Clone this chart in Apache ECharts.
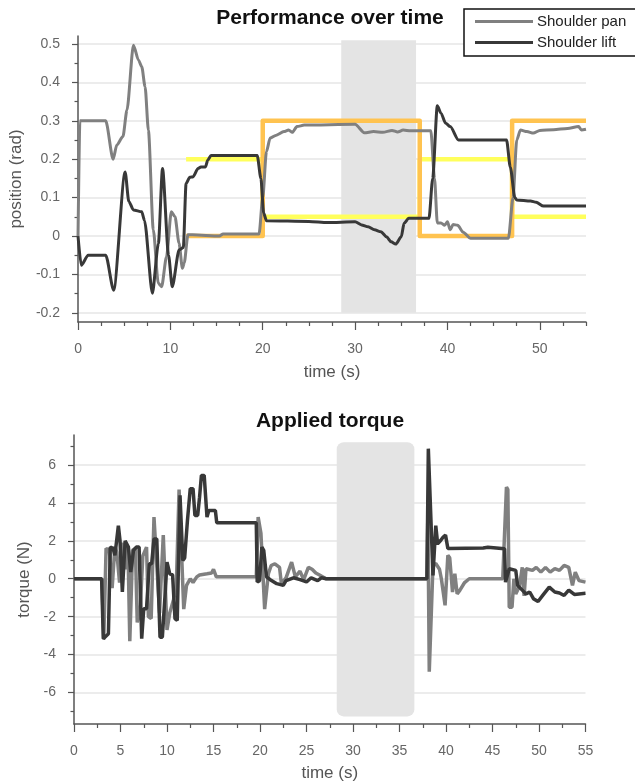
<!DOCTYPE html>
<html>
<head>
<meta charset="utf-8">
<script src="https://cdn.jsdelivr.net/npm/echarts@6/dist/echarts.min.js"></script>
<style>
html,body{margin:0;padding:0;background:#fff;}
#chart{width:635px;height:784px;}
</style>
</head>
<body>
<div id="chart"></div>
<script>
// ---------- DATA ----------
const seriesNames = ['Shoulder pan', 'Shoulder lift'];

// Top chart: position (rad) vs time (s)
const panPos = [[0,0],[0.2,0.3],[3.0,0.3],[3.8,0.2],[4.2,0.237],[4.86,0.259],[5.3,0.328],[6.0,0.497],[6.55,0.458],[6.9,0.441],[7.26,0.389],[7.62,0.276],[8.15,0.016],[8.69,-0.123],[9.05,-0.132],[9.58,-0.054],[10.1,0.063],[10.5,0.05],[10.94,-0.019],[11.3,-0.084],[11.5,-0.07],[11.9,0.003],[12.4,0.003],[15.3,0.0],[15.7,0.005],[19.6,0.005],[20.0,0.1],[20.4,0.22],[20.8,0.255],[21.4,0.262],[22.3,0.272],[22.8,0.276],[23.2,0.27],[23.7,0.285],[24.5,0.289],[30.0,0.291],[31.0,0.269],[32.0,0.272],[33.0,0.27],[34.0,0.275],[34.6,0.271],[35.2,0.276],[36.0,0.274],[38.2,0.274],[38.6,0.15],[38.9,0.034],[39.3,0.034],[39.7,0.028],[40.0,0.037],[40.3,0.016],[40.6,0.03],[41.1,0.028],[41.7,0.01],[42.5,-0.006],[46.6,-0.006],[47.1,0.1],[47.5,0.25],[47.9,0.276],[48.6,0.272],[49.3,0.268],[50.0,0.275],[51.5,0.277],[53.0,0.28],[54.2,0.285],[54.5,0.276],[55,0.278]];
const liftPos = [[0,0],[0.35,-0.076],[1.1,-0.05],[3.0,-0.05],[3.86,-0.141],[5.1,0.167],[5.5,0.09],[6.0,0.068],[6.9,0.063],[7.2,0.04],[8.05,-0.149],[8.7,-0.02],[9.15,0.176],[9.8,-0.05],[10.2,-0.132],[10.95,-0.036],[11.4,-0.03],[11.7,0.137],[12.1,0.153],[12.45,0.154],[13.0,0.176],[13.3,0.18],[13.8,0.18],[14.05,0.198],[14.4,0.21],[19.4,0.21],[19.8,0.15],[20.1,0.06],[20.4,0.04],[25.0,0.038],[27.0,0.035],[30.0,0.037],[30.7,0.029],[31.4,0.024],[32.1,0.016],[32.8,0.011],[33.4,-0.002],[33.9,-0.015],[34.4,-0.021],[35.0,-0.002],[35.3,0.033],[35.8,0.046],[38.0,0.046],[38.4,0.15],[38.9,0.339],[39.3,0.32],[39.8,0.294],[40.3,0.285],[41.2,0.25],[46.4,0.25],[46.8,0.18],[47.3,0.1],[47.5,0.094],[49.0,0.091],[49.6,0.088],[50.4,0.078],[55,0.078]];
const targetPan = [[11.7,0],[20,0],[20,0.3],[37,0.3],[37,0],[47,0],[47,0.3],[55,0.3]];
const targetLift = [[11.7,0.2],[20,0.2],[20,0.05],[37,0.05],[37,0.2],[47,0.2],[47,0.05],[55,0.05]];
const bandTop = [[28.5, 36.6, -0.2, 0.51]];      // [t0, t1, v0, v1]

// Bottom chart: torque (N) vs time (s)
const panTorque = [[0,0],[3.0,0],[3.2,-3.2],[3.45,1.6],[3.8,1.5],[4.1,-0.5],[4.4,1.7],[4.6,1.4],[4.9,-0.2],[5.2,1.9],[5.5,0.5],[5.8,1.67],[6.0,-3.3],[6.3,1.5],[6.6,1.6],[6.8,-2.3],[7.1,-1.8],[7.4,1.2],[7.8,1.67],[8.0,-2.0],[8.3,-2.1],[8.6,3.25],[8.8,3.25],[9.2,-1.8],[9.6,2.3],[10.0,-2.7],[10.3,-1.8],[10.7,-1.1],[11.0,-0.4],[11.3,4.7],[11.5,4.6],[11.8,-1.6],[12.1,-0.35],[12.5,0],[12.8,-0.2],[13.2,0.1],[13.5,0.2],[14.3,0.26],[14.8,0.3],[15.0,0.5],[15.3,0.1],[19.6,0.1],[19.8,3.25],[20.1,2.4],[20.5,-1.6],[20.9,0.26],[21.2,0.7],[21.6,0.79],[22.1,0.6],[22.3,-0.26],[22.8,0.05],[23.4,0.88],[23.8,0.1],[24.3,0.4],[24.7,-0.05],[25.2,0.6],[25.6,0.5],[26.0,0.3],[26.4,0.2],[27.1,0],[37.95,0],[38.05,3.5],[38.2,-4.9],[38.35,-4.8],[38.6,0.7],[38.9,0.8],[39.3,0.5],[39.5,0],[39.9,-1.4],[40.2,1.23],[40.4,1.1],[40.7,-0.7],[40.95,0.26],[41.2,-0.8],[41.5,-0.6],[42.0,-0.2],[42.5,0],[46.1,0],[46.5,4.84],[46.65,4.7],[46.8,-1.5],[47.1,-1.5],[47.3,0],[47.5,-0.8],[47.9,-0.4],[48.2,0.6],[48.4,-0.9],[48.6,0.53],[49.3,0.44],[49.7,0.6],[50.2,0.35],[50.7,0.6],[51.2,0.35],[51.7,0.53],[52.2,0.44],[52.7,0.7],[53.2,0.6],[53.6,-0.35],[53.9,0.35],[54.3,-0.1],[55,-0.18]];
const liftTorque = [[0,0],[2.97,0],[3.15,-3.16],[3.7,-2.9],[3.9,1.67],[4.2,1.6],[4.4,1.23],[4.77,2.8],[4.95,2.0],[5.2,-0.7],[5.5,2.0],[5.85,1.67],[6.1,0.35],[6.4,1.5],[6.7,1.67],[7.0,1.67],[7.28,-3.16],[7.5,-1.58],[7.8,-1.58],[8.1,0.79],[8.35,0.79],[8.6,2.1],[8.9,2.1],[9.25,-3.08],[9.5,-3.08],[9.8,-0.79],[10.0,0.88],[10.3,0.26],[10.6,0.2],[10.86,-2.1],[11.1,-2.2],[11.4,4.4],[11.7,0.97],[11.9,1.1],[12.2,3.08],[12.5,4.75],[12.8,4.75],[13.0,3.34],[13.3,3.34],[13.5,4.3],[13.7,5.45],[14.0,5.45],[14.3,3.25],[14.5,3.6],[15.2,3.6],[15.35,2.95],[19.6,2.95],[19.7,-0.17],[19.95,-0.1],[20.2,1.67],[20.4,1.5],[20.7,0.1],[21.1,-0.05],[21.8,-0.26],[22.5,-0.35],[22.8,-0.1],[23.6,0.05],[24.3,-0.05],[25.0,-0.17],[25.5,0.05],[26.2,-0.1],[26.6,0.05],[27.1,0],[37.95,0],[38.1,6.86],[38.3,6.86],[38.6,0.17],[38.9,2.8],[39.1,1.85],[39.4,2.0],[39.7,2.2],[39.95,2.3],[40.2,1.6],[44.0,1.62],[44.5,1.66],[46.3,1.58],[46.4,-0.18],[46.6,-0.18],[46.8,0.53],[47.5,0.44],[47.7,-0.35],[48.2,-0.6],[48.6,-0.8],[49.0,-0.7],[49.4,-1.05],[49.9,-1.2],[50.4,-0.88],[51.1,-0.44],[51.7,-0.7],[52.2,-0.75],[52.7,-0.88],[53.2,-0.6],[53.8,-0.83],[54.3,-0.8],[55,-0.77]];
const bandBottom = [[28.25, 36.6, -7.26, 7.2]];

// Tick values
const topXLabels = [0,10,20,30,40,50];
const topXMinor = [2.5,5,7.5,12.5,15,17.5,22.5,25,27.5,32.5,35,37.5,42.5,45,47.5,52.5,55];
const topYLabels = [-0.2,-0.1,0,0.1,0.2,0.3,0.4,0.5];
const topYMinor = [-0.15,-0.05,0.05,0.15,0.25,0.35,0.45];
const botXLabels = [0,5,10,15,20,25,30,35,40,45,50,55];
const botXMinor = [2.5,7.5,12.5,17.5,22.5,27.5,32.5,37.5,42.5,47.5,52.5];
const botYLabels = [-6,-4,-2,0,2,4,6];
const botYMinor = [-7,-5,-3,-1,1,3,5,7];

// ---------- STYLE ----------
const FONT = 'Liberation Sans, Arial, sans-serif';
const PAN_C = '#808080', LIFT_C = '#383838', ORANGE = '#ffc350', YELLOW = '#ffff5c';
const AX_C = '#555555', LBL_C = '#666666';

function majorAxis(extra) {
  return Object.assign({
    type: 'value',
    axisLine: {show: true, onZero: false, lineStyle: {color: AX_C, width: 1.5}},
    axisTick: {show: true, inside: false, lineStyle: {color: AX_C, width: 1.2}},
    axisLabel: {color: LBL_C, fontSize: 14, fontFamily: FONT},
    splitLine: {show: false},
    nameTextStyle: {color: '#555', fontSize: 17, fontFamily: FONT}
  }, extra);
}
function minorAxis(extra, len, vals) {
  return Object.assign({
    type: 'value',
    axisLine: {show: false, onZero: false},
    axisTick: {show: true, inside: false, length: len, customValues: vals, lineStyle: {color: AX_C, width: 1.2}},
    axisLabel: {show: false},
    splitLine: {show: false}
  }, extra);
}

const TOP_Y = [-0.224, 0.521];
const BOT_Y = [-7.66, 7.58];

function bandItem(params, api) {
  const p0 = api.coord([api.value(0), api.value(3)]);
  const p1 = api.coord([api.value(1), api.value(2)]);
  return {type: 'rect', shape: {x: p0[0], y: p0[1], width: p1[0] - p0[0], height: p1[1] - p0[1], r: params.seriesIndex === 0 ? 0 : 7},
    style: {fill: '#e4e4e4'}};
}

const chart = echarts.init(document.getElementById('chart'), null, {renderer: 'canvas'});
const option = {
  animation: false,
  backgroundColor: '#fff',
  title: [
    {text: 'Performance over time', left: 330, top: 8, textAlign: 'center', padding: 0,
     textStyle: {fontSize: 21, fontWeight: 'bold', color: '#111', fontFamily: FONT}},
    {text: 'Applied torque', left: 330, top: 411, textAlign: 'center', padding: 0,
     textStyle: {fontSize: 21, fontWeight: 'bold', color: '#111', fontFamily: FONT}}
  ],
  legend: {
    data: seriesNames, orient: 'vertical', left: 464, top: 9,
    padding: [5, 10, 6, 11], itemGap: 6, itemWidth: 58, itemHeight: 3, icon: 'rect',
    borderColor: '#111', borderWidth: 1.5, backgroundColor: '#fff',
    textStyle: {fontSize: 15, color: '#222', fontFamily: FONT, padding: [0, 0, 0, -1]}
  },
  grid: [
    {left: 74, right: 49, top: 36, height: 286},
    {left: 74, right: 49.5, top: 435, height: 289}
  ],
  xAxis: [
    majorAxis({gridIndex: 0, min: 0, max: 55, name: 'time (s)', nameLocation: 'middle', nameGap: 42,
      axisTick: {show: true, length: 8, customValues: topXLabels, lineStyle: {color: AX_C, width: 1.2}},
      axisLabel: {color: LBL_C, fontSize: 14, fontFamily: FONT, margin: 20, customValues: topXLabels}}),
    majorAxis({gridIndex: 1, min: 0, max: 55, name: 'time (s)', nameLocation: 'middle', nameGap: 41,
      axisTick: {show: true, length: 8, customValues: botXLabels, lineStyle: {color: AX_C, width: 1.2}},
      axisLabel: {color: LBL_C, fontSize: 14, fontFamily: FONT, margin: 20, customValues: botXLabels}}),
    minorAxis({gridIndex: 0, min: 0, max: 55, position: 'bottom'}, 4, topXMinor),
    minorAxis({gridIndex: 1, min: 0, max: 55, position: 'bottom'}, 4, botXMinor)
  ],
  yAxis: [
    majorAxis({gridIndex: 0, min: TOP_Y[0], max: TOP_Y[1], name: 'position (rad)', nameLocation: 'middle', nameGap: 46,
      axisTick: {show: true, length: 6, customValues: topYLabels, lineStyle: {color: AX_C, width: 1.2}},
      axisLabel: {color: LBL_C, fontSize: 14, fontFamily: FONT, margin: 18, customValues: topYLabels},
      splitLine: {show: true, lineStyle: {color: '#e6e6e6', width: 1.5}}}),
    majorAxis({gridIndex: 1, min: BOT_Y[0], max: BOT_Y[1], name: 'torque (N)', nameLocation: 'middle', nameGap: 37,
      axisTick: {show: true, length: 6, customValues: botYLabels, lineStyle: {color: AX_C, width: 1.2}},
      axisLabel: {color: LBL_C, fontSize: 14, fontFamily: FONT, margin: 18, customValues: botYLabels},
      splitLine: {show: true, lineStyle: {color: '#e6e6e6', width: 1.5}}}),
    minorAxis({gridIndex: 0, min: TOP_Y[0], max: TOP_Y[1], position: 'left'}, 3.5, topYMinor),
    minorAxis({gridIndex: 1, min: BOT_Y[0], max: BOT_Y[1], position: 'left'}, 3.5, botYMinor)
  ],
  series: [
    {type: 'custom', xAxisIndex: 0, yAxisIndex: 0, data: bandTop, renderItem: bandItem, encode: {x: [0, 1], y: [2, 3]}, silent: true, z: 1},
    {type: 'custom', xAxisIndex: 1, yAxisIndex: 1, data: bandBottom, renderItem: bandItem, encode: {x: [0, 1], y: [2, 3]}, silent: true, z: 1},
    {type: 'line', name: 'targetLift', xAxisIndex: 0, yAxisIndex: 0, data: targetLift, showSymbol: false, z: 2,
      lineStyle: {color: YELLOW, width: 4.5}},
    {type: 'line', name: 'targetPan', xAxisIndex: 0, yAxisIndex: 0, data: targetPan, showSymbol: false, z: 3,
      lineStyle: {color: ORANGE, width: 4.5, join: 'round'}},
    {type: 'line', name: seriesNames[0], xAxisIndex: 0, yAxisIndex: 0, data: panPos, showSymbol: false, z: 4,
      smooth: 0.25, smoothMonotone: 'x', color: PAN_C, lineStyle: {color: PAN_C, width: 3}},
    {type: 'line', name: seriesNames[1], xAxisIndex: 0, yAxisIndex: 0, data: liftPos, showSymbol: false, z: 5,
      smooth: 0.25, smoothMonotone: 'x', color: LIFT_C, lineStyle: {color: LIFT_C, width: 3}},
    {type: 'line', name: seriesNames[0], xAxisIndex: 1, yAxisIndex: 1, data: panTorque, showSymbol: false, z: 4,
      color: PAN_C, lineStyle: {color: PAN_C, width: 3.5}},
    {type: 'line', name: seriesNames[1], xAxisIndex: 1, yAxisIndex: 1, data: liftTorque, showSymbol: false, z: 5,
      color: LIFT_C, lineStyle: {color: LIFT_C, width: 3.5}}
  ]
};
chart.setOption(option);
</script>
</body>
</html>
